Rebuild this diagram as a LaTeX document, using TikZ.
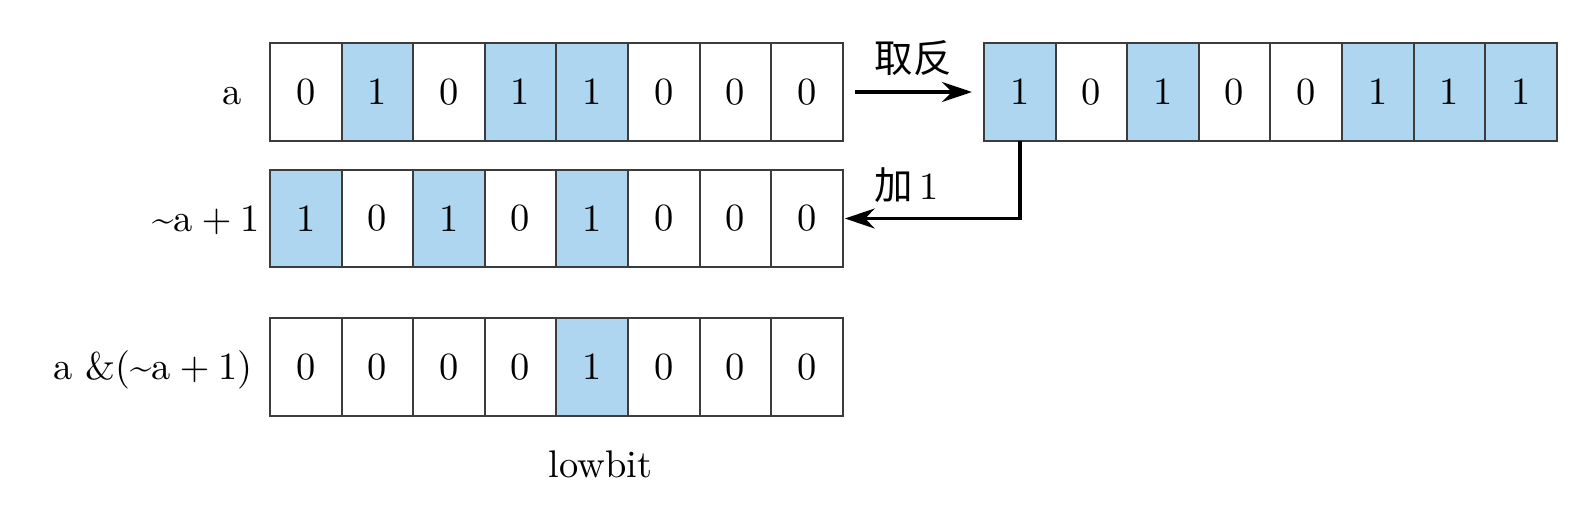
\documentclass[tikz,border=0pt,11pt]{standalone}
\usepackage{fontspec}
\newfontfamily\cjk{Noto Sans CJK SC}
\usepackage{tikz}
\usetikzlibrary{arrows.meta,positioning}
\definecolor{colBitOne}{HTML}{AED6F1}
\definecolor{colEdge}  {HTML}{3C3C3C}
\tikzset{
  bitcell/.style={
    draw=colEdge, line width=0.6pt,
    minimum width=7.16mm, minimum height=9.75mm,
    inner sep=0pt, outer sep=0pt
  },
  bit0/.style={bitcell, fill=white},
  bit1/.style={bitcell, fill=colBitOne},
  rowlabel/.style={inner sep=0pt},
  oplabel/.style ={inner sep=0pt},
  oparr/.style={
    -{Stealth[length=3mm,width=2mm]},
    line width=1pt, draw=black
  }
}
% one row of bits: name, left edge, centre y, bits
\newcommand{\bitrow}[4]{%
  \foreach \bitval [count=\i] in {#4}
    \node[bit\bitval, anchor=west] (#1\i) at ({#2+(\i-1)*0.716},#3) {\bitval};%
}

\begin{document}
\begin{tikzpicture}
    \useasboundingbox (0,0) rectangle (15.82,-5.08);

    \bitrow{a}{2.70}{-0.92}{0,1,0,1,1,0,0,0}
    \bitrow{b}{9.84}{-0.92}{1,0,1,0,0,1,1,1}
    \bitrow{n}{2.70}{-2.185}{1,0,1,0,1,0,0,0}
    \bitrow{r}{2.70}{-3.67}{0,0,0,0,1,0,0,0}

    \node[rowlabel, base left=2.8mm of a1] (la) {a};
    \node[rowlabel, base left=1mm of n1] (ln) {\textasciitilde$\mathrm{a}+1$};
    \node[rowlabel, base left=1.7mm of r1] (lr) {a \&(\textasciitilde$\mathrm{a}+1$)};
    \node[rowlabel, below=3.4mm of r5, xshift=0.8mm] (lowbit) {lowbit};

    \draw[oparr, shorten <=1.2mm, shorten >=1.2mm] (a8.east) -- node[oplabel, above=1.5mm] {{\cjk 取反}} (b1.west);
    \draw[oparr, shorten >=0.2mm] (b1.south) |- node[oplabel, pos=0.82, above=1.4mm] {{\cjk 加}\,1} (n8.east);
\end{tikzpicture}
\end{document}
